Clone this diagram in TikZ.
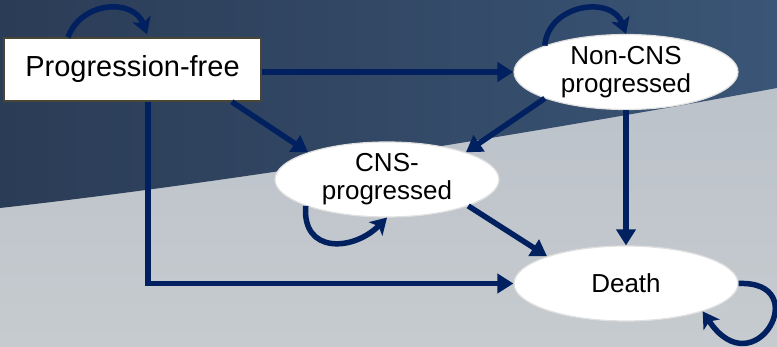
\documentclass[tikz,border=0pt]{standalone}
\usepackage{fontspec}
\setmainfont{Liberation Sans}
\usetikzlibrary{shapes.geometric,arrows.meta}
\definecolor{navy}{HTML}{002060}
\definecolor{slate}{HTML}{2B3C56}
\definecolor{slatelight}{HTML}{3A5576}
\definecolor{misttop}{HTML}{B8BFC8}
\definecolor{mistbottom}{HTML}{C6CBCF}
\definecolor{boxline}{HTML}{4A4636}
\tikzset{
   state/.style={ellipse, fill=white, draw=black!12, line width=1.2pt, minimum width=224pt, minimum height=75pt,
                 inner sep=0pt, align=center, font=\fontsize{26}{28}\selectfont},
   startbox/.style={rectangle, fill=white, draw=boxline, line width=1.5pt, minimum width=257pt, minimum height=63pt,
                 font=\fontsize{29}{32}\selectfont},
   trans/.style={draw=navy, line width=5.5pt, -{Triangle[length=16pt,width=19pt]}},
   stay/.style={draw=navy, line width=5.5pt, -{Stealth[length=16pt,width=19pt,inset=4pt]}}
}
\begin{document}
\begin{tikzpicture}[x=1pt,y=1pt]
\useasboundingbox (0,0) rectangle (777,-347);
\shade[top color=misttop, bottom color=mistbottom] (0,0) rectangle (777,-347);
\shade[left color=slate, right color=slatelight] (0,0) -- (777,0) -- (777,-88) .. controls (560,-128) and (250,-180) .. (0,-208) -- cycle;
\node[startbox] (pf) at (132.5,-69.5) {Progression-free};
\node[state] (ncp) at (626,-72) {Non-CNS\\progressed};
\node[state] (cnsp) at (387,-179.5) {CNS-\\progressed};
\node[state] (death) at (626,-283.5) {Death};
\draw[trans] (pf.east |- ncp.west) -- (ncp.west);
\draw[trans] (pf.-18) -- (cnsp.161);
\draw[trans] (ncp.198) -- (cnsp.19);
\draw[trans] (ncp.south) -- (death.north);
\draw[trans] (cnsp.-18) -- (death.161);
\draw[trans] ([xshift=15.5pt]pf.south) |- (death.west);
\draw[stay] ([xshift=-64.5pt]pf.north) to[out=70,in=110,looseness=1.25] ([xshift=14.5pt,yshift=3pt]pf.north);
\draw[stay] (ncp.162) to[out=85,in=110,looseness=1.3] (ncp.north);
\draw[stay] (cnsp.198) to[out=-95,in=-135,looseness=1.5] (cnsp.south);
\draw[stay] (death.east) .. controls +(77,3) and +(52,-78) .. (death.-20);
\end{tikzpicture}
\end{document}
